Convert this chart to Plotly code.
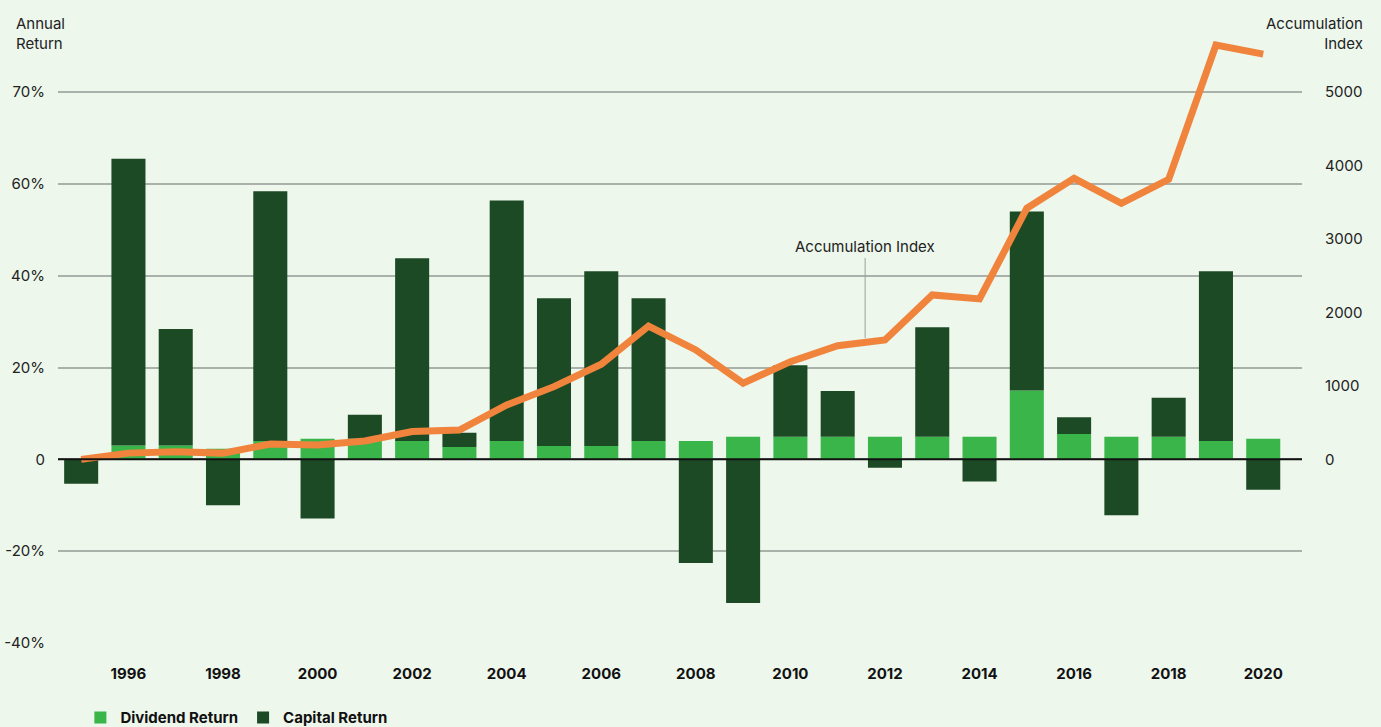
import plotly.graph_objects as go

# Dados
years = list(range(1995, 2021))
dividend_return = [0.0, 3.0, 3.0, 2.3, 4.0, 4.5, 4.5, 4.0, 2.7, 4.0, 2.9, 2.9, 4.0,
                   4.0, 4.9, 4.9, 4.9, 4.9, 4.9, 4.9, 15.0, 5.5, 4.9, 4.9, 4.0, 4.5]
capital_return = [-5.3, 62.5, 25.4, -10.0, 54.4, -12.9, 5.2, 39.8, 3.1, 52.4, 32.2, 38.1, 31.1,
                  -22.6, -31.3, 15.6, 10.0, -1.8, 23.9, -4.8, 39.0, 3.7, -12.2, 8.5, 37.0, -6.6]
accumulation_index = [0, 85, 105, 85, 210, 195, 250, 378, 400, 740, 990, 1295, 1815,
                      1490, 1037, 1330, 1548, 1625, 2238, 2184, 3418, 3826, 3486, 3812, 5640, 5517]

# o grafico original rotula a linha de 80% como "70%"
left_ticks = [-40, -20, 0, 20, 40, 60, 80]
left_labels = ["-40%", "-20%", "0", "20%", "40%", "60%", "70%"]
right_ticks = [0, 1000, 2000, 3000, 4000, 5000]

# Cores
bg = "#EDF7EC"
light_green = "#39B54A"
dark_green = "#1C4A25"
orange = "#F0843C"
grid = "#AAB0AA"
text = "#222222"

left_range = [-40, 92]
right_range = [v / 80 * 5000 for v in left_range]

fig = go.Figure()
fig.add_trace(go.Bar(x=years, y=dividend_return, name="Dividend Return",
                     marker=dict(color=light_green, line=dict(width=0))))
fig.add_trace(go.Bar(x=years, y=capital_return, name="Capital Return",
                     marker=dict(color=dark_green, line=dict(width=0))))
fig.add_trace(go.Scatter(x=years, y=accumulation_index, yaxis="y2", mode="lines",
                         line=dict(color=orange, width=7), showlegend=False,
                         name="Accumulation Index"))

fig.update_layout(
    width=1381, height=727,
    margin=dict(l=58, r=79, t=37, b=84, autoexpand=False),
    paper_bgcolor=bg, plot_bgcolor=bg,
    barmode="relative", bargap=0.28,
    font=dict(family="Inter, Lato, sans-serif", size=15, color=text),
    xaxis=dict(range=[1994.51, 2020.82], tickmode="linear", tick0=1996, dtick=2,
               showgrid=False, zeroline=False, showline=False, ticks="", automargin=False,
               tickfont=dict(size=15, color="#111111", weight="bold"),
               ticklabelstandoff=20),
    yaxis=dict(range=left_range, tickvals=left_ticks, ticktext=left_labels,
               showgrid=True, gridcolor=grid, gridwidth=1.5, zeroline=False, automargin=False,
               showline=False, ticks="", ticklabelstandoff=12,
               tickfont=dict(size=15, color=text)),
    yaxis2=dict(range=right_range, tickvals=right_ticks, overlaying="y", side="right",
                showgrid=False, zeroline=False, showline=False, ticks="", automargin=False,
                ticklabelstandoff=22, tickfont=dict(size=15, color=text)),
    legend=dict(orientation="h", x=0.018, xanchor="left", y=-0.096, yanchor="top",
                font=dict(size=15, color="#111111", weight="bold"),
                bgcolor="rgba(0,0,0,0)", traceorder="normal"),
    showlegend=True,
)

# linha do zero
fig.add_shape(type="line", xref="paper", x0=0, x1=1, yref="y", y0=0, y1=0,
              line=dict(color="#111111", width=2), layer="above")

# titulos dos eixos
fig.add_annotation(xref="paper", yref="paper", x=-0.0355, y=1.042, xanchor="left", yanchor="top",
                   text="Annual<br>Return", showarrow=False, align="left",
                   font=dict(size=15, color=text))
fig.add_annotation(xref="paper", yref="paper", x=1.0507, y=1.042, xanchor="right", yanchor="top",
                   text="Accumulation<br>Index", showarrow=False, align="right",
                   font=dict(size=15, color=text))

# rotulo da linha
fig.add_annotation(x=2011.58, y=1653, xref="x", yref="y2", text="Accumulation Index",
                   showarrow=True, arrowhead=0, arrowwidth=1, arrowcolor="#9A9F9A",
                   ax=0, ay=-91, font=dict(size=15, color=text))

fig.write_html("out.html", config={"displayModeBar": False},
               post_script="document.body.style.margin='0';document.body.style.background='" + bg + "';")
